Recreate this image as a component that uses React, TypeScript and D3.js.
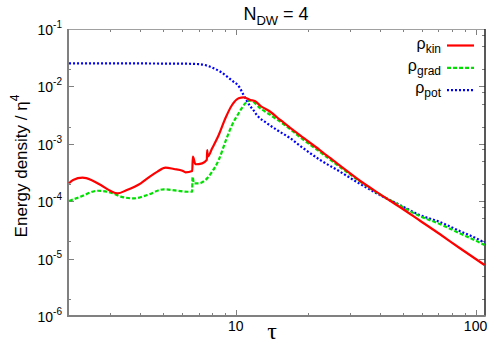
import React, { useEffect, useRef } from "react"
import * as d3 from "d3"

// rho_kin (red, solid)
const tauKin = [2.02, 2.1, 2.3, 2.5, 2.74, 3.0, 3.22, 3.5, 4.02, 4.4, 4.72, 5.1, 5.53, 6.0, 6.18, 6.59, 6.63, 6.8, 7.25, 7.58, 7.61, 7.65, 7.98, 8.5, 9.06, 9.66, 10.29, 10.79, 11.51, 12.07, 12.67, 13.94, 15.34, 16.88, 18.57, 22.49, 27.23, 32.97, 39.92, 48.33, 58.53, 70.87, 85.8, 109]
const rhoKin = [2.05e-4, 2.35e-4, 2.57e-4, 2.35e-4, 1.91e-4, 1.52e-4, 1.37e-4, 1.55e-4, 2.05e-4, 2.7e-4, 3.27e-4, 3.84e-4, 3.64e-4, 3.4e-4, 3.18e-4, 3.36e-4, 5.96e-4, 4.4e-4, 4.57e-4, 5.23e-4, 7.8e-4, 6.0e-4, 8.35e-4, 1.42e-3, 2.78e-3, 4.74e-3, 6.21e-3, 6.46e-3, 5.79e-3, 5.5e-3, 4.6e-3, 3.62e-3, 2.6e-3, 1.9e-3, 1.4e-3, 7.71e-4, 4.15e-4, 2.27e-4, 1.33e-4, 7.92e-5, 4.61e-5, 2.68e-5, 1.53e-5, 7.74e-6]

// rho_grad (green, dashed)
const tauGrad = [2.02, 2.26, 2.66, 3.02, 3.32, 3.77, 4.28, 5.02, 5.71, 6.3, 6.58, 6.61, 6.7, 7.03, 7.48, 7.98, 8.5, 9.06, 9.66, 10.29, 10.97, 11.51, 12.67, 13.94, 15.34, 16.88, 18.57, 22.49, 27.23, 32.97, 39.92, 48.33, 58.53, 70.87, 85.8, 103.9, 109]
const rhoGrad = [1.01e-4, 1.2e-4, 1.52e-4, 1.41e-4, 1.2e-4, 1.12e-4, 1.28e-4, 1.61e-4, 1.52e-4, 1.46e-4, 1.46e-4, 2.67e-4, 2.05e-4, 2.05e-4, 2.34e-4, 3.27e-4, 5.23e-4, 1.09e-3, 2.13e-3, 3.4e-3, 5.08e-3, 5.7e-3, 4.15e-3, 3.18e-3, 2.43e-3, 1.8e-3, 1.3e-3, 7.19e-4, 3.94e-4, 2.2e-4, 1.31e-4, 8.41e-5, 5.52e-5, 4.01e-5, 2.77e-5, 1.91e-5, 1.72e-5]

// rho_pot (blue, dotted)
const tauPot = [2.02, 3, 4, 5, 6, 7.0, 7.6, 8.1, 8.64, 9.21, 9.81, 10.2, 10.97, 11.51, 11.86, 12.27, 13.51, 14.86, 16.88, 18.57, 22.49, 27.23, 32.97, 39.92, 48.33, 58.53, 70.87, 85.8, 103.9, 109]
const rhoPot = [2.51e-2, 2.51e-2, 2.51e-2, 2.5e-2, 2.49e-2, 2.45e-2, 2.3e-2, 2.07e-2, 1.8e-2, 1.48e-2, 1.2e-2, 1.06e-2, 6.21e-3, 4.5e-3, 3.85e-3, 3.15e-3, 2.28e-3, 1.74e-3, 1.25e-3, 9.2e-4, 5.23e-4, 3.27e-4, 2.0e-4, 1.28e-4, 8.59e-5, 5.75e-5, 4.34e-5, 3.03e-5, 2.11e-5, 1.89e-5]

const yExponents = [-6, -5, -4, -3, -2, -1]
const xMajor = [10, 100]
const legendSubs = ["kin", "grad", "pot"]

class App extends React.Component {
    svgRef = React.createRef<SVGSVGElement>()

    componentDidMount() {
        this.renderChart()
    }

    renderChart() {
        let left = 68, right = 485, top = 29, bottom = 316

        let svg = d3.select(this.svgRef.current)
        svg.selectAll("*").remove()

        let xScale = d3.scaleLog().domain([2, 109.5]).range([left, right])
        let yScale = d3.scaleLog().domain([1e-6, 1e-1]).range([bottom, top])

        let font = "'Liberation Sans', Arial, sans-serif"

        // minor ticks
        let xMinor: number[] = []
        ;[1, 10, 100].forEach(d => {
            for (let m = 2; m <= 9; m++) {
                let v = d * m
                if (v >= 2 && v <= 109.5) xMinor.push(v)
            }
        })
        let ticks = svg.append("g").attr("stroke", "#808080").attr("stroke-width", 1)
        xMinor.forEach(v => {
            let x = Math.round(xScale(v)) + 0.5
            ticks.append("line").attr("x1", x).attr("x2", x).attr("y1", bottom).attr("y2", bottom - 3)
            ticks.append("line").attr("x1", x).attr("x2", x).attr("y1", top).attr("y2", top + 3)
        })
        xMajor.forEach(v => {
            let x = Math.round(xScale(v)) + 0.5
            ticks.append("line").attr("x1", x).attr("x2", x).attr("y1", bottom).attr("y2", bottom - 6)
            ticks.append("line").attr("x1", x).attr("x2", x).attr("y1", top).attr("y2", top + 6)
        })
        yExponents.forEach(e => {
            let y = Math.round(yScale(Math.pow(10, e))) + 0.5
            ticks.append("line").attr("x1", left).attr("x2", left + 6).attr("y1", y).attr("y2", y)
            ticks.append("line").attr("x1", right).attr("x2", right - 6).attr("y1", y).attr("y2", y)
            // only some minor ticks survive in the picture
            if (e < -1) {
                let y2 = Math.round(yScale(2 * Math.pow(10, e))) + 0.5
                ticks.append("line").attr("x1", left).attr("x2", left + 3).attr("y1", y2).attr("y2", y2)
                ;[2, 5, 8].forEach(m => {
                    let ym = Math.round(yScale(m * Math.pow(10, e))) + 0.5
                    ticks.append("line").attr("x1", right).attr("x2", right - 3).attr("y1", ym).attr("y2", ym)
                })
            }
        })

        // border
        svg.append("line").attr("x1", left).attr("x2", right).attr("y1", top + 0.5).attr("y2", top + 0.5)
            .attr("stroke", "#a0a0a0").attr("stroke-width", 1)
        svg.append("line").attr("x1", right).attr("x2", right).attr("y1", top).attr("y2", bottom)
            .attr("stroke", "#222").attr("stroke-width", 1.5)
        svg.append("line").attr("x1", left).attr("x2", left).attr("y1", top).attr("y2", bottom + 1)
            .attr("stroke", "#808080").attr("stroke-width", 2)
        svg.append("line").attr("x1", left).attr("x2", right + 0.75).attr("y1", bottom).attr("y2", bottom)
            .attr("stroke", "#808080").attr("stroke-width", 2)

        // y tick labels
        yExponents.forEach(e => {
            let y = yScale(Math.pow(10, e))
            let t = svg.append("text").attr("x", 62).attr("y", y + 6)
                .attr("text-anchor", "end").attr("font-family", font).attr("font-size", 14).attr("fill", "#000")
            t.append("tspan").text("10")
            t.append("tspan").attr("font-size", 10).attr("dy", -7).text(String(e))
        })
        // x tick labels
        xMajor.forEach(v => {
            svg.append("text").attr("x", xScale(v)).attr("y", 331)
                .attr("text-anchor", "middle").attr("font-family", font).attr("font-size", 14)
                .text(String(v))
        })

        // title
        let title = svg.append("text").attr("x", 276).attr("y", 20)
            .attr("text-anchor", "middle").attr("font-family", font).attr("font-size", 18)
        title.append("tspan").text("N")
        title.append("tspan").attr("font-size", 13).attr("dy", 5).text("DW")
        title.append("tspan").attr("dy", -5).text(" = 4")

        // axis labels
        let ylab = svg.append("text").attr("transform", "translate(27, 166) rotate(-90)")
            .attr("text-anchor", "middle").attr("font-family", font).attr("font-size", 17)
        ylab.append("tspan").text("Energy density / η")
        ylab.append("tspan").attr("font-size", 12).attr("dy", -8).text("4")

        svg.append("text").attr("x", 272).attr("y", 339)
            .attr("text-anchor", "middle").attr("font-family", "'Liberation Serif', 'DejaVu Serif', serif")
            .attr("font-size", 24).text("τ")

        // curves
        let line = d3.line<[number, number]>()
            .x(d => xScale(d[0]))
            .y(d => yScale(d[1]))
            .curve(d3.curveMonotoneX)

        let series = [
            { tau: tauKin, rho: rhoKin, color: "#ff0000", dash: null },
            { tau: tauGrad, rho: rhoGrad, color: "#00e000", dash: "4,2" },
            { tau: tauPot, rho: rhoPot, color: "#0000ff", dash: "2,2" },
        ]
        let plot = svg.append("g")
        series.slice().reverse().forEach(s => {
            let pts = s.tau.map((t, i) => [t, s.rho[i]] as [number, number])
            plot.append("path")
                .attr("d", line(pts))
                .attr("fill", "none")
                .attr("stroke", s.color)
                .attr("stroke-width", 2.2)
                .attr("stroke-dasharray", s.dash)
                .attr("stroke-linejoin", "round")
        })

        // legend
        series.forEach((s, i) => {
            let y = 45.5 + i * 22.3
            svg.append("line").attr("x1", 447).attr("x2", 474).attr("y1", y).attr("y2", y)
                .attr("stroke", s.color).attr("stroke-width", 2.2).attr("stroke-dasharray", s.dash)
            let t = svg.append("text").attr("x", 441).attr("y", y + 3)
                .attr("text-anchor", "end").attr("font-family", font).attr("font-size", 16)
            t.append("tspan").text("ρ")
            t.append("tspan").attr("font-size", 12).attr("dy", 4).text(legendSubs[i])
        })
    }

    render() {
        return (
            <svg ref={this.svgRef} width={500} height={350}
                style={{ position: "absolute", left: 0, top: 0, background: "#fff" }} />
        )
    }
}

export default App
